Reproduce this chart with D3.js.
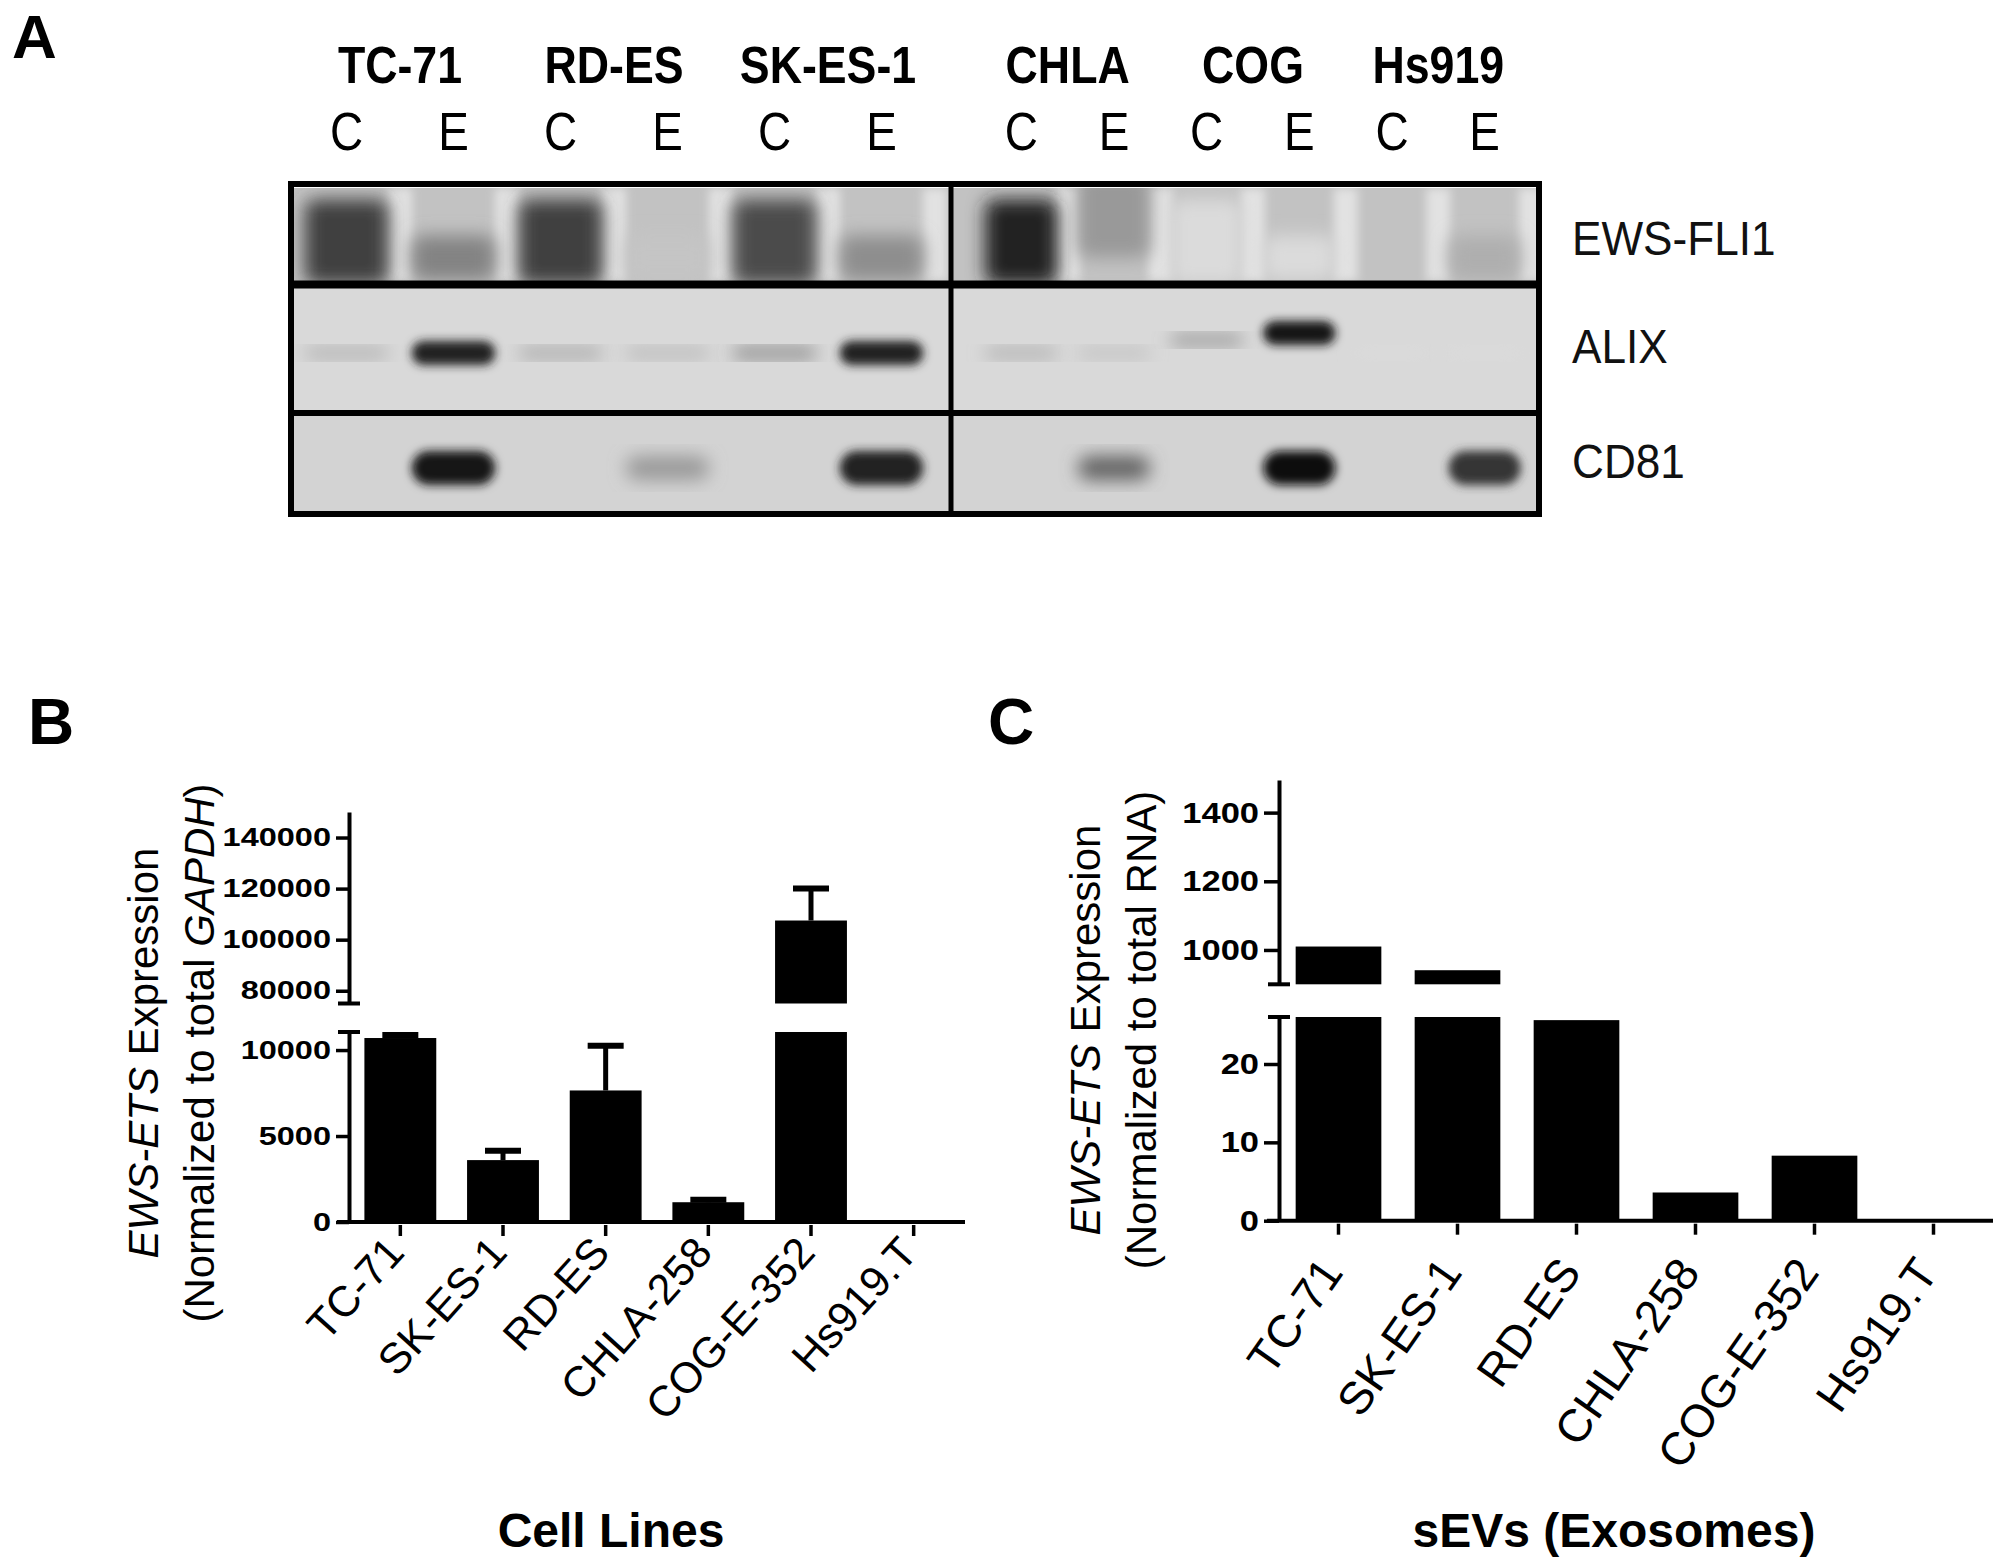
<!DOCTYPE html>
<html><head><meta charset="utf-8">
<script src="https://cdn.jsdelivr.net/npm/d3@7"></script>
<style>body{margin:0;background:#fff}svg{display:block}</style>
</head><body>
<script>
// ---------- DATA ----------
const blotCellLines = ["TC-71","RD-ES","SK-ES-1","CHLA","COG","Hs919"];
const blotLaneTypes = ["C","E"];
const blotRows = ["EWS-FLI1","ALIX","CD81"];
// band darkness per lane (C,E for each cell line), per row (0 = none, 1 = black)
const bandEWS  = [0.75,0.45, 0.75,0.15, 0.7,0.4, 0.9,0.35, 0.05,0.05, 0.0,0.25];
const bandALIX = [0.3,0.9, 0.35,0.25, 0.55,0.9, 0.3,0.2, 0.45,0.95, 0.05,0.05];
const bandCD81 = [0.0,0.95, 0.0,0.35, 0.0,0.9, 0.0,0.6, 0.0,1.0, 0.0,0.8];

const categories = ["TC-71","SK-ES-1","RD-ES","CHLA-258","COG-E-352","Hs919.T"];
const cellValues = [10700, 3600, 7650, 1150, 107500, 0];
const cellErrors = [10870, 4150, 10250, 1300, 120000, null];
const cellTicksLow = [0, 5000, 10000];
const cellTicksHigh = [80000, 100000, 120000, 140000];
const sevValues = [1010, 941, 25.6, 3.6, 8.3, 0];
const sevTicksLow = [0, 10, 20];
const sevTicksHigh = [1000, 1200, 1400];

// ---------- SVG ----------
const W = 2000, H = 1567;
const svg = d3.select("body").append("svg").attr("width", W).attr("height", H).attr("viewBox", `0 0 ${W} ${H}`);
const FONT = "Liberation Sans, Arial, sans-serif";
const defs = svg.append("defs");
defs.append("filter").attr("id","blur").attr("x","-50%").attr("y","-50%").attr("width","200%").attr("height","200%")
  .append("feGaussianBlur").attr("stdDeviation", 5);
defs.append("filter").attr("id","blur2").attr("x","-50%").attr("y","-50%").attr("width","200%").attr("height","200%")
  .append("feGaussianBlur").attr("stdDeviation", 9);

// ---------- Panel A ----------
svg.append("text").attr("x", 12).attr("y", 58).attr("font-family", FONT).attr("font-weight","bold").attr("font-size", 62).text("A");

const leftPanel = d3.scaleBand().domain(d3.range(6)).range([293, 935]);
const rightPanel = d3.scaleBand().domain(d3.range(6)).range([975, 1531]);
function laneX(i){ return i < 6 ? leftPanel(i) + leftPanel.bandwidth()/2 : rightPanel(i-6) + rightPanel.bandwidth()/2; }
function laneW(i){ return i < 6 ? leftPanel.bandwidth() : rightPanel.bandwidth(); }

const rowBounds = [[188,281],[288,410],[416,511]];
const rowBg = ["#c2c2c2","#d9d9d9","#d3d3d3"];
const bandData = [bandEWS, bandALIX, bandCD81];

const labelG = svg.append("g");
blotCellLines.forEach((name, k) => {
  const cx = (laneX(2*k) + laneX(2*k+1)) / 2;
  labelG.append("text").attr("transform", `translate(${cx},83) scale(0.86,1)`).attr("text-anchor","middle")
    .attr("font-family", FONT).attr("font-weight","bold").attr("font-size", 52).text(name);
  blotLaneTypes.forEach((t, j) => {
    labelG.append("text").attr("transform", `translate(${laneX(2*k+j)},150) scale(0.85,1)`).attr("text-anchor","middle")
      .attr("font-family", FONT).attr("font-size", 54).text(t);
  });
});

const blot = svg.append("g");
rowBounds.forEach((b, r) => {
  [[292,951],[951,1539]].forEach(([x0,x1], p) => {
    const id = `clip${r}${p}`;
    defs.append("clipPath").attr("id", id).append("rect").attr("x", x0).attr("y", b[0]).attr("width", x1-x0).attr("height", b[1]-b[0]);
    const g = blot.append("g").attr("clip-path", `url(#${id})`);
    g.append("rect").attr("x", x0).attr("y", b[0]).attr("width", x1-x0).attr("height", b[1]-b[0]).attr("fill", rowBg[r]);
    if (r === 0) {
      d3.range(p*6, p*6+6).forEach(i => {
        g.append("rect").attr("x", laneX(i) + laneW(i)/2 - 12).attr("y", b[0]).attr("width", 24).attr("height", b[1]-b[0])
          .attr("fill", "#e2e2e2").attr("filter","url(#blur)");
      });
    }
    d3.range(p*6, p*6+6).forEach(i => {
      const v = bandData[r][i];
      if (v <= 0) return;
      const g0 = Math.round(230 - 220*v);
      const col = `rgb(${g0},${g0},${g0})`;
      const w = laneW(i) * 0.78;
      if (r === 0) {
        const lower = (i % 2 === 1) && i !== 7;
        const h = lower ? 45 : 85;
        const cy = lower ? 258 : (i === 7 ? 215 : 242);
        g.append("rect").attr("x", laneX(i) - w/2).attr("y", cy - h/2).attr("width", w).attr("height", h)
          .attr("rx", 10).attr("fill", col).attr("filter","url(#blur2)");
      } else {
        const h = r === 1 ? (v > 0.7 ? 24 : 9) : (v > 0.7 ? 34 : 24);
        let cy = r === 1 ? 353 : 468;
        if (r === 1 && i >= 8 && i <= 9) cy = i === 9 ? 333 : 340;
        g.append("rect").attr("x", laneX(i) - w/2).attr("y", cy - h/2).attr("width", w).attr("height", h)
          .attr("rx", h/2).attr("fill", col).attr("filter", v > 0.7 ? "url(#blur)" : "url(#blur2)");
      }
    });
  });
});
const fr = svg.append("g").attr("fill","none").attr("stroke","#000");
fr.append("rect").attr("x", 291).attr("y", 184).attr("width", 1248).attr("height", 330).attr("stroke-width", 6);
fr.append("line").attr("x1", 951).attr("x2", 951).attr("y1", 184).attr("y2", 514).attr("stroke-width", 5);
fr.append("line").attr("x1", 291).attr("x2", 1539).attr("y1", 284.5).attr("y2", 284.5).attr("stroke-width", 8);
fr.append("line").attr("x1", 291).attr("x2", 1539).attr("y1", 413).attr("y2", 413).attr("stroke-width", 6);
const rowLabelY = [255, 363, 478];
blotRows.forEach((n, r) => {
  svg.append("text").attr("transform", `translate(1572,${rowLabelY[r]}) scale(0.92,1)`).attr("font-family", FONT)
    .attr("font-size", 48).attr("fill","#111").text(n);
});

// ---------- broken-axis bar chart helper ----------
function brokenBar(opt) {
  const g = svg.append("g");
  const x = d3.scaleBand().domain(categories).range(opt.xRange).paddingInner(opt.pad).paddingOuter(opt.pad/2);
  const x0 = opt.xRange[0];
  const yLow = d3.scaleLinear().domain(opt.lowDomain).range(opt.lowRange);
  const yHigh = d3.scaleLinear().domain(opt.highDomain).range(opt.highRange);
  const lowMax = opt.lowDomain[1], highMin = opt.highDomain[0];
  opt.values.forEach((v, i) => {
    const c = categories[i];
    if (v > 0) {
      g.append("rect").attr("x", x(c)).attr("width", x.bandwidth())
        .attr("y", yLow(Math.min(v, lowMax))).attr("height", yLow(0) - yLow(Math.min(v, lowMax))).attr("fill","#000");
    }
    if (v > highMin) {
      g.append("rect").attr("x", x(c)).attr("width", x.bandwidth())
        .attr("y", yHigh(v)).attr("height", yHigh(highMin) - yHigh(v)).attr("fill","#000");
    }
    if (opt.errors && opt.errors[i] != null) {
      const e = opt.errors[i];
      const sc = e > highMin ? yHigh : yLow;
      const cx = x(c) + x.bandwidth()/2;
      g.append("line").attr("x1", cx).attr("x2", cx).attr("y1", sc(v)).attr("y2", sc(e)).attr("stroke","#000").attr("stroke-width", 5);
      g.append("line").attr("x1", cx-18).attr("x2", cx+18).attr("y1", sc(e)).attr("y2", sc(e)).attr("stroke","#000").attr("stroke-width", 6);
    }
  });
  const fmt = d3.format("d");
  const axLow = d3.axisLeft(yLow).tickValues(opt.lowTicks).tickFormat(fmt).tickSize(opt.tick).tickSizeOuter(0).tickPadding(3);
  const axHigh = d3.axisLeft(yHigh).tickValues(opt.highTicks).tickFormat(fmt).tickSize(opt.tick).tickSizeOuter(0).tickPadding(3);
  [axLow, axHigh].forEach(ax => {
    const a = g.append("g").attr("transform", `translate(${x0},0)`).call(ax);
    a.select(".domain").attr("stroke-width", 4);
    a.selectAll(".tick line").attr("stroke-width", 3.5);
    a.selectAll(".tick text").attr("font-family", FONT).attr("font-weight","bold").attr("font-size", opt.tickFont).attr("fill","#000")
      .attr("transform", `scale(${opt.tickScale},1)`).attr("x", -(opt.tick + 5) / opt.tickScale);
  });
  [opt.highRange[0], opt.lowRange[1]].forEach(yy => {
    g.append("line").attr("x1", x0-11).attr("x2", x0+11).attr("y1", yy).attr("y2", yy).attr("stroke","#000").attr("stroke-width", 4);
  });
  const xa = g.append("g").attr("transform", `translate(0,${yLow(0)})`).call(d3.axisBottom(x).tickSize(14).tickSizeOuter(0).tickFormat(""));
  xa.select(".domain").attr("stroke-width", 4).attr("d", `M${x0 - 12},0H${opt.xRange[1]}`);
  xa.selectAll(".tick line").attr("stroke-width", 3.5).attr("y1", 3);
  categories.forEach(c => {
    const cx = x(c) + x.bandwidth()/2;
    g.append("text").attr("transform", `translate(${cx + opt.lblDx},${yLow(0) + opt.lblDy}) rotate(${-opt.angle})`)
      .attr("text-anchor","end").attr("font-family", FONT).attr("font-size", opt.lblFont).text(c);
  });
  const t1 = g.append("text").attr("transform", `translate(${opt.t1x},${opt.ty}) rotate(-90)`).attr("text-anchor","middle")
    .attr("font-family", FONT).attr("font-size", opt.titleFont);
  t1.append("tspan").attr("font-style","italic").text("EWS-ETS");
  t1.append("tspan").text(" Expression");
  const t2 = g.append("text").attr("transform", `translate(${opt.t2x},${opt.ty}) rotate(-90)`).attr("text-anchor","middle")
    .attr("font-family", FONT).attr("font-size", opt.titleFont);
  opt.title2.forEach(([s, it]) => t2.append("tspan").attr("font-style", it ? "italic" : "normal").text(s));
  g.append("text").attr("x", opt.xtX).attr("y", 1547).attr("text-anchor","middle").attr("font-family", FONT)
    .attr("font-weight","bold").attr("font-size", 48).text(opt.xTitle);
  g.append("text").attr("x", opt.letterX).attr("y", 744).attr("font-family", FONT).attr("font-weight","bold").attr("font-size", 64).text(opt.letter);
}

brokenBar({
  letter: "B", letterX: 28,
  xRange: [349, 965], pad: 0.3,
  values: cellValues, errors: cellErrors,
  lowDomain: [0, 11050], lowRange: [1222, 1032],
  highDomain: [75000, 150000], highRange: [1003.5, 812],
  lowTicks: cellTicksLow, highTicks: cellTicksHigh,
  tick: 13, tickFont: 25, tickScale: 1.3,
  angle: 48, lblDx: 6, lblDy: 32, lblFont: 43,
  t1x: 158, t2x: 214, ty: 1053, titleFont: 42,
  title2: [["(Normalized to total ", false], ["GAPDH", true], [")", false]],
  xtX: 611, xTitle: "Cell Lines"
});
brokenBar({
  letter: "C", letterX: 988,
  xRange: [1279, 1993], pad: 0.28,
  values: sevValues, errors: null,
  lowDomain: [0, 26], lowRange: [1220.7, 1017],
  highDomain: [900, 1495], highRange: [984.3, 780],
  lowTicks: sevTicksLow, highTicks: sevTicksHigh,
  tick: 15, tickFont: 30, tickScale: 1.15,
  angle: 55, lblDx: 6, lblDy: 52, lblFont: 46,
  t1x: 1100, t2x: 1156, ty: 1030, titleFont: 42,
  title2: [["(Normalized to total RNA)", false]],
  xtX: 1614, xTitle: "sEVs (Exosomes)"
});
</script>
</body></html>
